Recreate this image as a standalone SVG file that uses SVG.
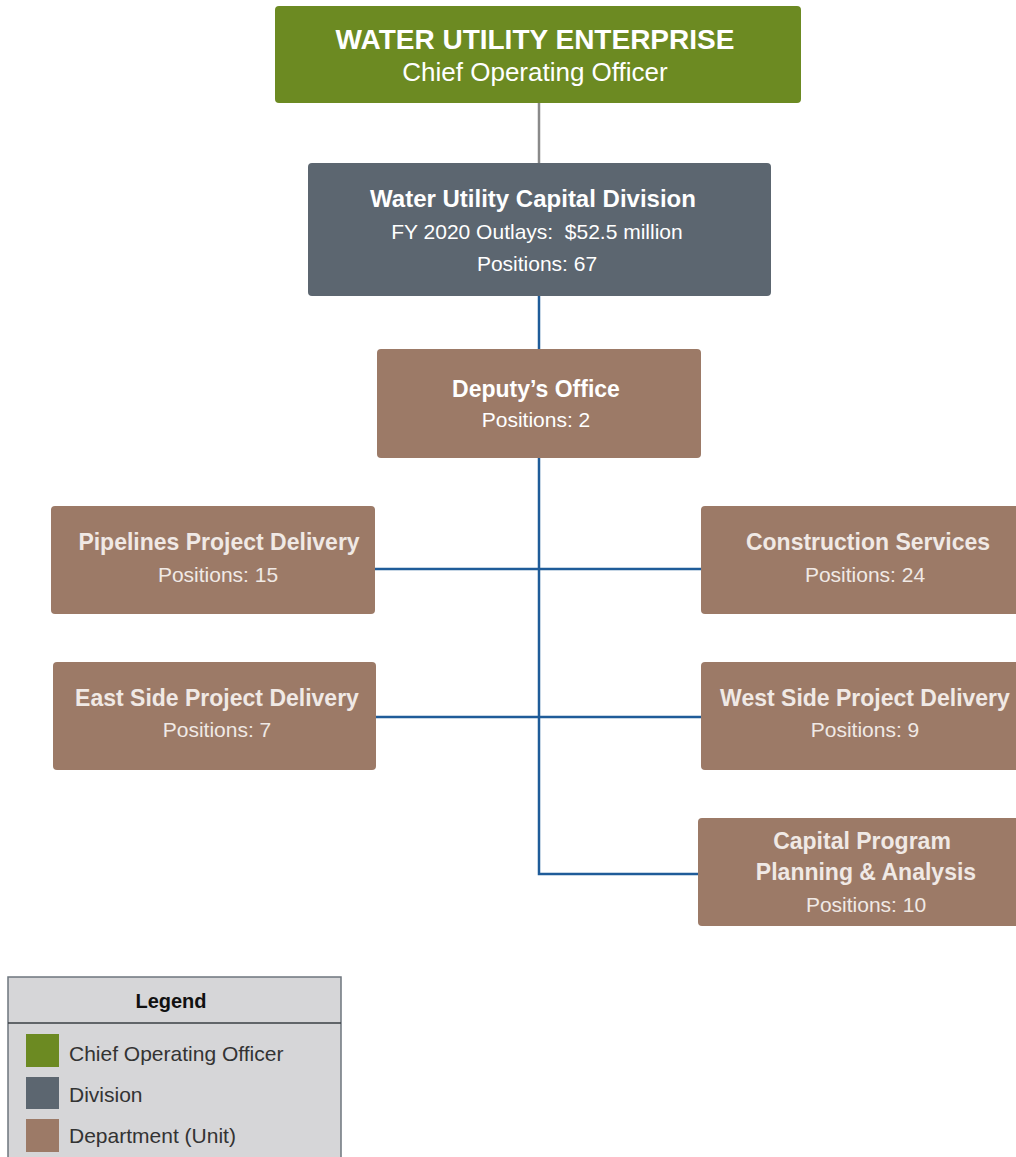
<svg xmlns="http://www.w3.org/2000/svg" width="1016" height="1157" viewBox="0 0 1016 1157">
<style>
.coo{fill:#6C8A22}
.div{fill:#5C6670}
.unit{fill:#9C7A67}
text{font-family:"Liberation Sans",Arial,sans-serif;text-anchor:middle}
.w{fill:#FFFFFF}
.u{fill:#F0E9E5}
.b{font-weight:bold}
.lg{fill:#333333;text-anchor:start;font-size:21px}
.gray{stroke:#8A8A8A;stroke-width:2.5;fill:none}
.blue{stroke:#1F5C99;stroke-width:2.5;fill:none}
</style>
<rect width="1016" height="1157" fill="#FFFFFF"/>
<g id="connectors">
<line class="gray" x1="539" y1="103" x2="539" y2="163"/>
<line class="blue" x1="539" y1="296" x2="539" y2="349"/>
<polyline class="blue" points="539,458 539,874 698,874"/>
<line class="blue" x1="375" y1="569" x2="701" y2="569"/>
<line class="blue" x1="376" y1="717" x2="701" y2="717"/>
</g>
<g id="coo">
<rect class="coo" x="275" y="6" width="526" height="97" rx="4"/>
<text class="w b" x="535" y="49" font-size="28">WATER UTILITY ENTERPRISE</text>
<text class="w" x="535" y="81" font-size="26">Chief Operating Officer</text>
</g>
<g id="division">
<rect class="div" x="308" y="163" width="463" height="133" rx="4"/>
<text class="w b" x="533" y="207" font-size="24">Water Utility Capital Division</text>
<text class="w" x="537" y="239" font-size="21" xml:space="preserve">FY 2020 Outlays:  $52.5 million</text>
<text class="w" x="537" y="271" font-size="21">Positions: 67</text>
</g>
<g id="deputy">
<rect class="unit" x="377" y="349" width="324" height="109" rx="4"/>
<text class="w b" x="536" y="397" font-size="23">Deputy’s Office</text>
<text class="w" x="536" y="427" font-size="21">Positions: 2</text>
</g>
<g id="pipelines">
<rect class="unit" x="51" y="506" width="324" height="108" rx="4"/>
<text class="u b" x="219" y="550" font-size="23">Pipelines Project Delivery</text>
<text class="u" x="218" y="582" font-size="21">Positions: 15</text>
</g>
<g id="construction">
<rect class="unit" x="701" y="506" width="330" height="108" rx="4"/>
<text class="u b" x="868" y="550" font-size="23">Construction Services</text>
<text class="u" x="865" y="582" font-size="21">Positions: 24</text>
</g>
<g id="eastside">
<rect class="unit" x="53" y="662" width="323" height="108" rx="4"/>
<text class="u b" x="217" y="706" font-size="23">East Side Project Delivery</text>
<text class="u" x="217" y="737" font-size="21">Positions: 7</text>
</g>
<g id="westside">
<rect class="unit" x="701" y="662" width="330" height="108" rx="4"/>
<text class="u b" x="865" y="706" font-size="23">West Side Project Delivery</text>
<text class="u" x="865" y="737" font-size="21">Positions: 9</text>
</g>
<g id="capital">
<rect class="unit" x="698" y="818" width="333" height="108" rx="4"/>
<text class="u b" x="862" y="849" font-size="23">Capital Program</text>
<text class="u b" x="866" y="880" font-size="23">Planning &amp; Analysis</text>
<text class="u" x="866" y="912" font-size="21">Positions: 10</text>
</g>
<g id="legend">
<rect x="8" y="977" width="333" height="190" fill="#D6D6D8" stroke="#6E767E" stroke-width="1.5"/>
<line x1="8" y1="1023" x2="341" y2="1023" stroke="#3A3F45" stroke-width="1.5"/>
<text x="171" y="1008" font-size="20" class="b" fill="#111111">Legend</text>
<rect class="coo" x="26" y="1034" width="33" height="33"/>
<text class="lg" x="69" y="1061">Chief Operating Officer</text>
<rect class="div" x="26" y="1077" width="33" height="32"/>
<text class="lg" x="69" y="1102">Division</text>
<rect class="unit" x="26" y="1119" width="33" height="33"/>
<text class="lg" x="69" y="1143">Department (Unit)</text>
</g>
</svg>
